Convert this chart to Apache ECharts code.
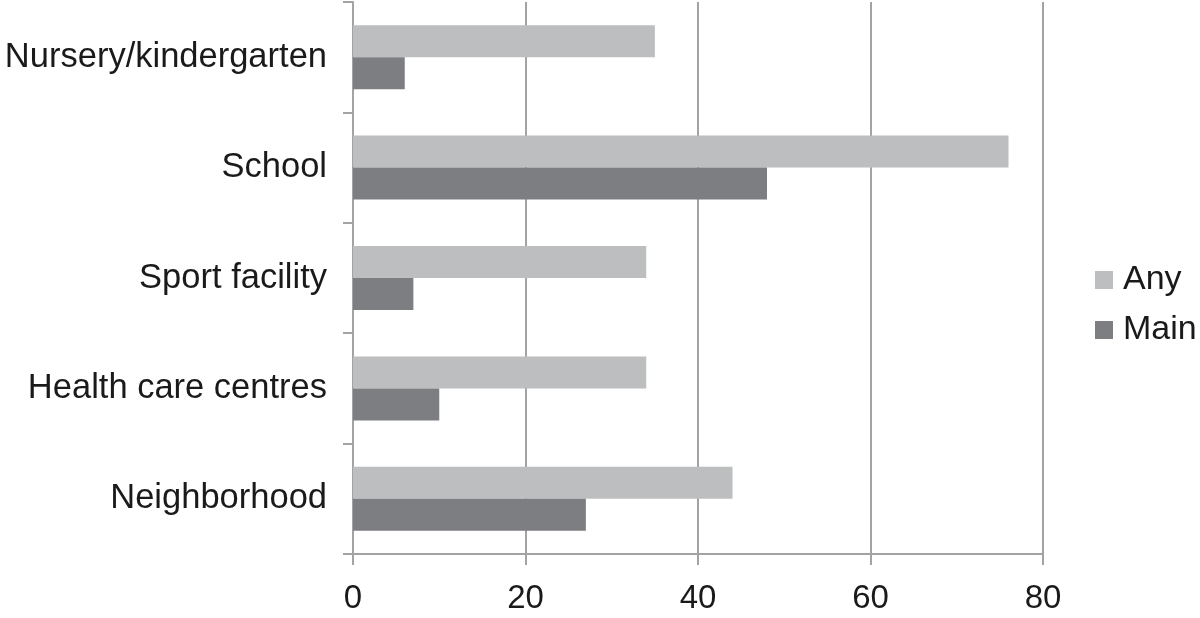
<!DOCTYPE html>
<html>
<head>
<meta charset="utf-8">
<script src="https://cdn.jsdelivr.net/npm/echarts@6/dist/echarts.min.js"></script>
<style>html,body{margin:0;padding:0;background:#fff;}#c{width:1200px;height:618px;}</style>
</head>
<body>
<div id="c"></div>
<script>
const categories = ['Nursery/kindergarten', 'School', 'Sport facility', 'Health care centres', 'Neighborhood'];
const anyValues = [35, 76, 34, 34, 44];
const mainValues = [6, 48, 7, 10, 27];
const seriesNames = ['Any', 'Main'];
const xTicks = { min: 0, max: 80, interval: 20 };

const chart = echarts.init(document.getElementById('c'), null, { renderer: 'canvas' });
const axisColor = '#a3a3a3';
const font = 'Liberation Sans, Arial, Helvetica, sans-serif';
chart.setOption({
  animation: false,
  backgroundColor: '#ffffff',
  grid: { left: 353, right: 157, top: 2, bottom: 64 },
  legend: {
    orient: 'vertical',
    left: 1090,
    top: 258,
    itemWidth: 18,
    itemHeight: 18,
    itemGap: 16,
    icon: 'rect',
    data: seriesNames,
    textStyle: { fontFamily: font, fontSize: 34, color: '#1a1a1a', padding: [0, 0, 0, 5] }
  },
  xAxis: {
    type: 'value',
    min: xTicks.min, max: xTicks.max, interval: xTicks.interval,
    axisLine: { show: true, lineStyle: { color: axisColor, width: 2 } },
    axisTick: { show: true, length: 11, lineStyle: { color: axisColor, width: 2 } },
    splitLine: { show: true, lineStyle: { color: axisColor, width: 2 } },
    axisLabel: { fontFamily: font, fontSize: 33, color: '#1a1a1a', margin: 28 }
  },
  yAxis: {
    type: 'category',
    inverse: true,
    data: categories,
    axisLine: { show: true, lineStyle: { color: axisColor, width: 2 } },
    axisTick: { show: true, length: 10, lineStyle: { color: axisColor, width: 2 } },
    axisLabel: { fontFamily: font, fontSize: 34.5, color: '#1a1a1a', margin: 26 }
  },
  series: [
    { name: seriesNames[0], type: 'bar', data: anyValues, barGap: '0%', barCategoryGap: '42%', itemStyle: { color: '#bdbec0' } },
    { name: seriesNames[1], type: 'bar', data: mainValues, barGap: '0%', barCategoryGap: '42%', itemStyle: { color: '#7d7e81' } }
  ]
});
</script>
</body>
</html>
